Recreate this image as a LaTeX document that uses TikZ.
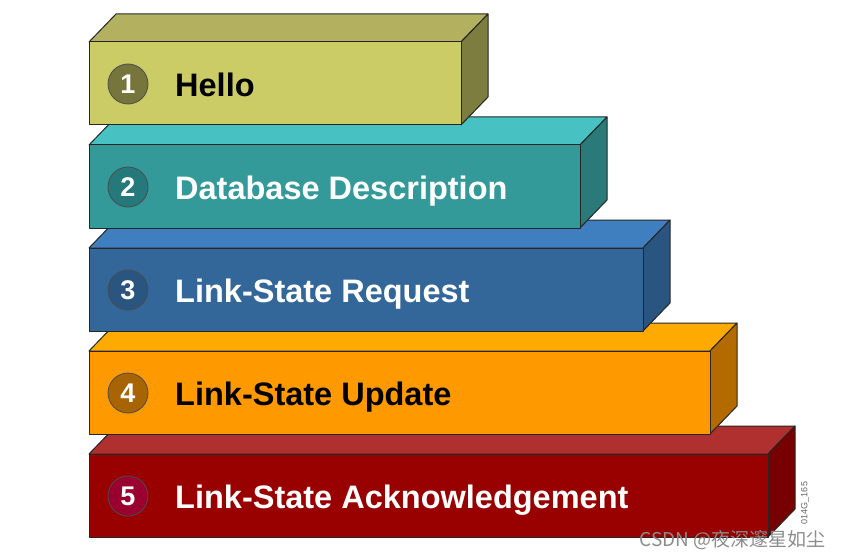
\documentclass[tikz,border=0pt]{standalone}
\usepackage{fontspec}
\setmainfont{Liberation Sans}
\newfontfamily\cjkfont{Noto Sans CJK SC}
\usepackage{tikz}
\usepackage{xcolor}

\definecolor{front1}{HTML}{CCCC66}
\definecolor{top1}{HTML}{B3B060}
\definecolor{side1}{HTML}{7D7D40}
\definecolor{dot1}{HTML}{76763C}
\definecolor{front2}{HTML}{339999}
\definecolor{top2}{HTML}{47C1C1}
\definecolor{side2}{HTML}{2A7A7A}
\definecolor{dot2}{HTML}{26797A}
\definecolor{front3}{HTML}{336699}
\definecolor{top3}{HTML}{3F7FBF}
\definecolor{side3}{HTML}{2A5580}
\definecolor{dot3}{HTML}{2A5580}
\definecolor{front4}{HTML}{FF9900}
\definecolor{top4}{HTML}{FFAA00}
\definecolor{side4}{HTML}{B36B00}
\definecolor{dot4}{HTML}{A86400}
\definecolor{front5}{HTML}{990000}
\definecolor{top5}{HTML}{B03030}
\definecolor{side5}{HTML}{770000}
\definecolor{dot5}{HTML}{990030}

\begin{document}
\begin{tikzpicture}[x=1pt, y=-1pt,
    face/.style={draw=black!85, line width=1pt, line join=round},
    numdot/.style={circle, draw=black!70, line width=0.8pt, minimum size=40pt, inner sep=0pt,
        text=white, font=\fontsize{27}{30}\selectfont\bfseries},
    boxtext/.style={anchor=base west, inner sep=0pt, font=\fontsize{32.5}{38}\selectfont\bfseries}]
    \useasboundingbox (0,0) rectangle (841,559);
    \foreach \i/\r/\tc/\txt in {5/768/white/Link-State Acknowledgement, 4/710/black/Link-State Update,
                                3/643/white/Link-State Request, 2/580/white/Database Description, 1/461/black/Hello} {
        \pgfmathsetmacro\t{42+103*(\i-1)}
        \pgfmathsetmacro\b{\t+83}
        % top, side, front
        \filldraw[face, fill=top\i] (89,\t) -- (116,\t-28) -- (\r+27,\t-28) -- (\r,\t) -- cycle;
        \filldraw[face, fill=side\i] (\r,\t) -- (\r+27,\t-28) -- (\r+27,\b-28) -- (\r,\b) -- cycle;
        \filldraw[face, fill=front\i] (89,\t) rectangle (\r,\b);
        \node[numdot, fill=dot\i] (n\i) at (128,\t+42) {\i};
        \node[boxtext, text=\tc] (t\i) at (175,\t+54.5) {\txt};
    }
    \node[rotate=90, text=black!60, inner sep=0pt, font=\fontsize{9}{10}\selectfont] (code) at (805,503) {014G\_165};
    \node[anchor=base east, inner sep=0pt, text=black!45, font=\cjkfont\fontsize{19}{22}\selectfont] (mark) at (826,546) {CSDN @夜深邃星如尘};
\end{tikzpicture}
\end{document}
